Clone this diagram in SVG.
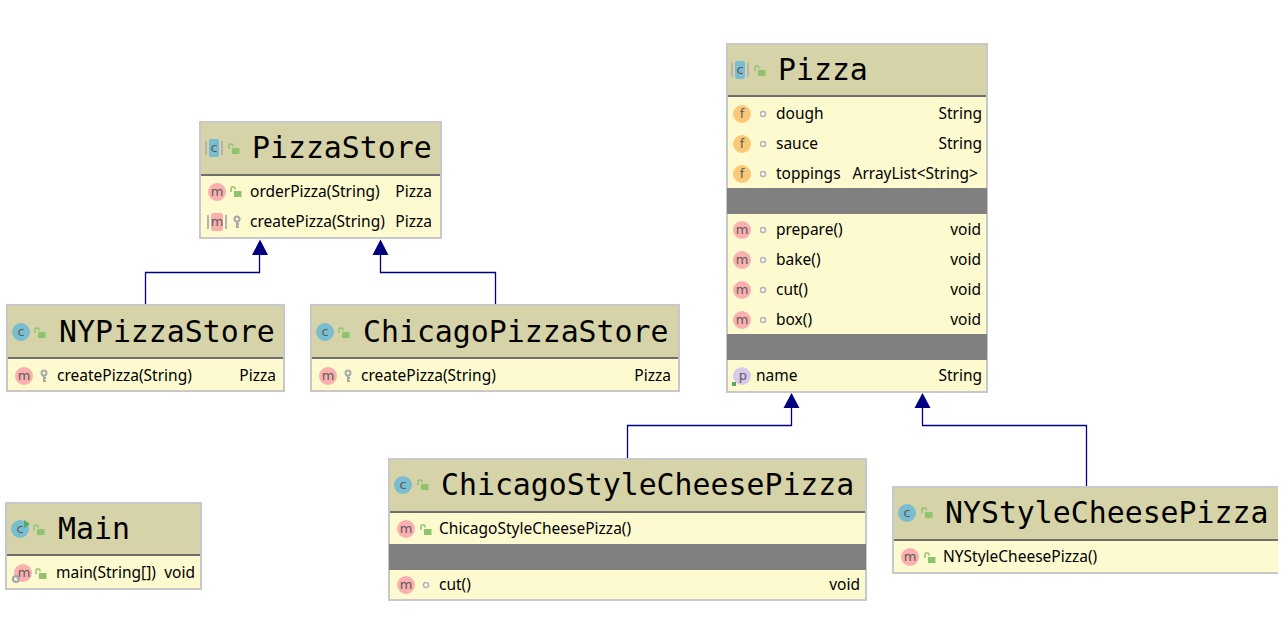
<svg xmlns="http://www.w3.org/2000/svg" width="1282" height="618" viewBox="0 0 1282 618">
<style>
.box{fill:#fefad0;stroke:#c8c8c8;stroke-width:2}
.hd{fill:#d6d3a9}
.sep{stroke:#6e6e6e;stroke-width:2}
.gray{fill:#808080}
.t{font-family:"DejaVu Sans Mono",monospace;font-size:29.850px;fill:#000}
.b{font-family:"Noto Sans","Open Sans",sans-serif;font-size:15.500px;fill:#000}
.e{text-anchor:end}
.i{font-family:"DejaVu Sans",sans-serif;font-size:13px;fill:#5a5a5a;text-anchor:middle}
.conn{fill:none;stroke:#000080;stroke-width:1.300}
.head{fill:#000080}
</style>
<defs>
<circle id="cc" r="9" fill="#79bed0"/>
<circle id="cm" r="9" fill="#fbb0b0"/>
<circle id="cf" r="9" fill="#fbc878"/>
<circle id="cp" r="9" fill="#d9c9ea"/>
<g id="pub"><rect x="-2" y="-1" width="7.500" height="6" fill="#8fc46e"/><path d="M-5 0v-3.500q0-1.500 1.500-1.500h1q1.500 0 1.500 1.500v1" fill="none" stroke="#8fc46e" stroke-width="1.500"/></g>
<g id="pro"><circle cy="-3" r="2.500" fill="none" stroke="#a8a8a8" stroke-width="2"/><path d="M0-1v7M0 2h2M0 5h2" stroke="#a8a8a8" stroke-width="2" fill="none"/></g>
<circle id="pkg" r="2.500" fill="#fff" stroke="#b4b4b4" stroke-width="1.500"/>
</defs>

<g id="connectors">
<path class="conn" d="M145.500 305V272.500H259.500V254"/>
<path class="head" d="M252 255L260 239.500L268 255Z"/>
<path class="conn" d="M495.500 305V272.500H380.500V254"/>
<path class="head" d="M372.500 255L380.500 239.500L388.500 255Z"/>
<path class="conn" d="M627.500 459V425.500H791.500V407"/>
<path class="head" d="M783.500 408L791.500 393L799.500 408Z"/>
<path class="conn" d="M1086.500 487V425.500H922.500V407"/>
<path class="head" d="M914.500 408L922.500 393L930.500 408Z"/>
</g>

<g id="PizzaStore">
<rect class="box" x="200" y="122" width="241" height="116"/>
<rect class="hd" x="201" y="123" width="239" height="52"/>
<path class="sep" d="M201 175H440"/>
<path d="M206 141v14M222 141v14" stroke="#b4b4b4" stroke-width="2"/>
<rect x="209" y="139" width="10" height="18" rx="2" fill="#79bed0"/><text class="i" x="214" y="152">c</text>
<use href="#pub" x="234" y="149"/>
<text class="t" x="252" y="158">PizzaStore</text>
<use href="#cm" x="217" y="192"/><text class="i" x="217" y="196">m</text>
<use href="#pub" x="236" y="192"/>
<text class="b" x="250" y="197">orderPizza(String)</text><text class="b e" x="432" y="197">Pizza</text>
<path d="M208 215v14M226 215v14" stroke="#b4b4b4" stroke-width="2"/>
<rect x="211" y="213" width="12" height="18" rx="2" fill="#fbb0b0"/><text class="i" x="217" y="226">m</text>
<use href="#pro" x="237" y="222"/>
<text class="b" x="250" y="227">createPizza(String)</text><text class="b e" x="432" y="227">Pizza</text>
</g>

<g id="NYPizzaStore">
<rect class="box" x="7" y="305" width="277" height="86"/>
<rect class="hd" x="8" y="306" width="275" height="52"/>
<path class="sep" d="M8 358H283"/>
<use href="#cc" x="21" y="332"/><text class="i" x="21" y="336">c</text>
<use href="#pub" x="40" y="333"/>
<text class="t" x="59" y="342">NYPizzaStore</text>
<use href="#cm" x="24" y="376"/><text class="i" x="24" y="380">m</text>
<use href="#pro" x="44" y="376"/>
<text class="b" x="57" y="381">createPizza(String)</text><text class="b e" x="276" y="381">Pizza</text>
</g>

<g id="ChicagoPizzaStore">
<rect class="box" x="311" y="305" width="368" height="86"/>
<rect class="hd" x="312" y="306" width="366" height="52"/>
<path class="sep" d="M312 358H678"/>
<use href="#cc" x="325" y="332"/><text class="i" x="325" y="336">c</text>
<use href="#pub" x="344" y="333"/>
<text class="t" x="363" y="342">ChicagoPizzaStore</text>
<use href="#cm" x="328" y="376"/><text class="i" x="328" y="380">m</text>
<use href="#pro" x="348" y="376"/>
<text class="b" x="361" y="381">createPizza(String)</text><text class="b e" x="671" y="381">Pizza</text>
</g>

<g id="Main">
<rect class="box" x="6" y="503" width="195" height="86"/>
<rect class="hd" x="7" y="504" width="193" height="51"/>
<path class="sep" d="M7 555H200"/>
<use href="#cc" x="20" y="529"/><text class="i" x="20" y="533">c</text>
<path d="M24 520L30 524L24 528Z" fill="#59a869"/>
<use href="#pub" x="39" y="530"/>
<text class="t" x="58" y="539">Main</text>
<use href="#cm" x="23" y="573"/><text class="i" x="24" y="577">m</text>
<circle cx="16" cy="579" r="3" fill="none" stroke="#9aa7b0" stroke-width="2"/>
<use href="#pub" x="41" y="574"/>
<text class="b" x="56" y="578">main(String[])</text><text class="b e" x="195" y="578">void</text>
</g>

<g id="Pizza">
<rect class="box" x="727" y="44" width="260" height="348"/>
<rect class="hd" x="728" y="45" width="258" height="51"/>
<path class="sep" d="M728 96H986"/>
<path d="M732 63v14M748 63v14" stroke="#b4b4b4" stroke-width="2"/>
<rect x="735" y="61" width="10" height="18" rx="2" fill="#79bed0"/><text class="i" x="740" y="74">c</text>
<use href="#pub" x="760" y="71"/>
<text class="t" x="778" y="80">Pizza</text>
<use href="#cf" x="742" y="114"/><text class="i" x="742" y="118">f</text><use href="#pkg" x="763" y="114"/>
<text class="b" x="776" y="119">dough</text><text class="b e" x="982" y="119">String</text>
<use href="#cf" x="742" y="144"/><text class="i" x="742" y="148">f</text><use href="#pkg" x="763" y="144"/>
<text class="b" x="776" y="149">sauce</text><text class="b e" x="982" y="149">String</text>
<use href="#cf" x="742" y="174"/><text class="i" x="742" y="178">f</text><use href="#pkg" x="763" y="174"/>
<text class="b" x="776" y="179">toppings</text><text class="b e" x="978" y="179">ArrayList&lt;String&gt;</text>
<rect class="gray" x="727" y="188" width="260" height="26"/>
<use href="#cm" x="742" y="230"/><text class="i" x="742" y="234">m</text><use href="#pkg" x="763" y="230"/>
<text class="b" x="776" y="235">prepare()</text><text class="b e" x="981" y="235">void</text>
<use href="#cm" x="742" y="260"/><text class="i" x="742" y="264">m</text><use href="#pkg" x="763" y="260"/>
<text class="b" x="776" y="265">bake()</text><text class="b e" x="981" y="265">void</text>
<use href="#cm" x="742" y="290"/><text class="i" x="742" y="294">m</text><use href="#pkg" x="763" y="290"/>
<text class="b" x="776" y="295">cut()</text><text class="b e" x="981" y="295">void</text>
<use href="#cm" x="742" y="320"/><text class="i" x="742" y="324">m</text><use href="#pkg" x="763" y="320"/>
<text class="b" x="776" y="325">box()</text><text class="b e" x="981" y="325">void</text>
<rect class="gray" x="727" y="334" width="260" height="26"/>
<use href="#cp" x="742" y="376"/><text class="i" x="743" y="380">p</text>
<rect x="732" y="382" width="4" height="4" fill="#59a869"/>
<text class="b" x="756" y="381">name</text><text class="b e" x="982" y="381">String</text>
</g>

<g id="ChicagoStyleCheesePizza">
<rect class="box" x="389" y="459" width="477" height="141"/>
<rect class="hd" x="390" y="460" width="475" height="52"/>
<path class="sep" d="M390 512H865"/>
<use href="#cc" x="403" y="485"/><text class="i" x="403" y="489">c</text>
<use href="#pub" x="423" y="485"/>
<text class="t" x="441" y="495">ChicagoStyleCheesePizza</text>
<use href="#cm" x="406" y="529"/><text class="i" x="406" y="533">m</text>
<use href="#pub" x="426" y="530"/>
<text class="b" x="439" y="534">ChicagoStyleCheesePizza()</text>
<rect class="gray" x="389" y="544" width="477" height="26"/>
<use href="#cm" x="406" y="585"/><text class="i" x="406" y="589">m</text><use href="#pkg" x="426" y="585"/>
<text class="b" x="439" y="590">cut()</text><text class="b e" x="860" y="590">void</text>
</g>

<g id="NYStyleCheesePizza">
<path class="box" d="M1278 487H893V573H1278"/>
<rect x="1278" y="480" width="4" height="100" fill="#fff"/>
<rect class="hd" x="894" y="488" width="384" height="52"/>
<path class="sep" d="M894 540H1278"/>
<use href="#cc" x="907" y="513"/><text class="i" x="907" y="517">c</text>
<use href="#pub" x="927" y="513"/>
<text class="t" x="945" y="523">NYStyleCheesePizza</text>
<use href="#cm" x="910" y="557"/><text class="i" x="910" y="561">m</text>
<use href="#pub" x="930" y="558"/>
<text class="b" x="943" y="562">NYStyleCheesePizza()</text>
</g>
</svg>
